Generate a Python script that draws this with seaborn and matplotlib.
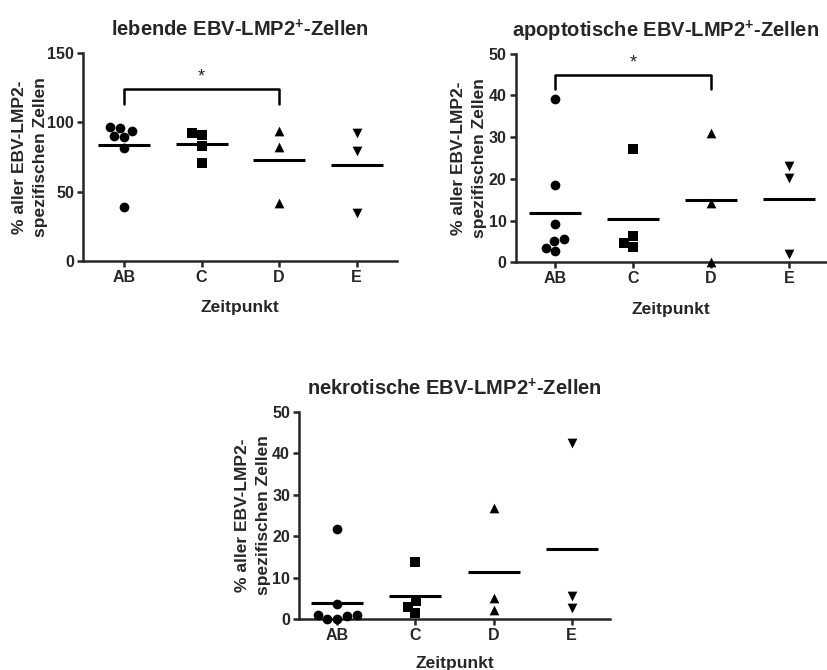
import numpy as np
import pandas as pd
import matplotlib
matplotlib.use("Agg")
import matplotlib.pyplot as plt
import seaborn as sns

# ---------------- data ----------------
categories = ["AB", "C", "D", "E"]
markers = ["o", "s", "^", "v"]

lebend_AB = [96.3, 90.3, 89.8, 93.9, 97.0, 81.4, 38.8]
lebend_C = [91.0, 92.2, 83.1, 70.6]
lebend_D = [93.9, 82.6, 42.1]
lebend_E = [92.7, 79.7, 34.4]

apopt_AB = [39.1, 18.5, 9.1, 5.0, 5.6, 2.7, 3.4]
apopt_C = [27.2, 6.3, 3.6, 4.6]
apopt_D = [30.9, 14.1, 0.0]
apopt_E = [23.2, 20.1, 2.0]

nekro_AB = [21.7, 3.6, 1.0, 0.8, 1.0, 0.0, 0.0]
nekro_C = [13.7, 4.4, 3.0, 1.4]
nekro_D = [26.7, 5.2, 2.2]
nekro_E = [42.5, 5.6, 2.6]

titles = ["lebende EBV-LMP2$^{+}$-Zellen",
          "apoptotische EBV-LMP2$^{+}$-Zellen",
          "nekrotische EBV-LMP2$^{+}$-Zellen"]
ylabel = "% aller EBV-LMP2-\nspezifischen Zellen"
xlabel = "Zeitpunkt"
yticks_lebend = [0, 50, 100, 150]
yticks_other = [0, 10, 20, 30, 40, 50]

# significance bracket (AB vs D): leg bottom, bar top, star text
sig_lebend = (113.2, 124.2, "*")
sig_apopt = (41.5, 44.9, "*")


def make_df(groups):
    rows = []
    for cat, vals in zip(categories, groups):
        for v in vals:
            rows.append((cat, v))
    return pd.DataFrame(rows, columns=["Zeitpunkt", "Wert"])


df_lebend = make_df([lebend_AB, lebend_C, lebend_D, lebend_E])
df_apopt = make_df([apopt_AB, apopt_C, apopt_D, apopt_E])
df_nekro = make_df([nekro_AB, nekro_C, nekro_D, nekro_E])

# ---------------- style ----------------
sns.set_style("ticks")
plt.rcParams["font.family"] = ["Liberation Sans", "DejaVu Sans"]
plt.rcParams["font.weight"] = "bold"
plt.rcParams["mathtext.fontset"] = "custom"
plt.rcParams["mathtext.rm"] = "Liberation Sans:bold"
plt.rcParams["mathtext.it"] = "Liberation Sans:bold"
plt.rcParams["mathtext.bf"] = "Liberation Sans:bold"
plt.rcParams["axes.linewidth"] = 1.8

fig = plt.figure(figsize=(8.28, 6.70), dpi=100)
ax1 = fig.add_axes([0.1002, 0.6104, 0.3792, 0.3104])
ax2 = fig.add_axes([0.6228, 0.6085, 0.3760, 0.3113])
ax3 = fig.add_axes([0.3611, 0.0757, 0.3756, 0.3098])


def draw(ax, df, title, yticks, xlim, sig=None, title_x=0.5, xpad=11,
         ypad=0):
    for cat, m in zip(categories, markers):
        sub = df[df["Zeitpunkt"] == cat]
        sns.swarmplot(data=sub, x="Zeitpunkt", y="Wert", order=categories,
                      marker=m, color="black", size=7, ax=ax,
                      clip_on=False, zorder=5)
    sns.pointplot(data=df, x="Zeitpunkt", y="Wert", order=categories,
                  estimator="mean", errorbar=None, markers="_",
                  linestyles="none", color="black", markersize=37,
                  markeredgewidth=2.2, ax=ax, zorder=4)
    ax.set_ylim(yticks[0], yticks[-1])
    ax.set_yticks(yticks)
    ax.set_xlim(*xlim)
    sns.despine(ax=ax)
    ax.tick_params(axis="both", direction="out", length=4.5, width=1.8,
                   labelsize=11.5, pad=2)
    for lab in ax.get_xticklabels() + ax.get_yticklabels():
        lab.set_fontweight("bold")
    ax.set_xlabel(xlabel, fontsize=12.5, fontweight="bold", labelpad=xpad)
    ax.set_ylabel(ylabel, fontsize=12.5, fontweight="bold", labelpad=ypad,
                  linespacing=1.5)
    ax.set_title(title, fontsize=14.5, fontweight="bold", pad=12, x=title_x)
    if sig is not None:
        lo, hi, star = sig
        i0, i1 = categories.index("AB"), categories.index("D")
        ax.plot([i0, i0, i1, i1], [lo, hi, hi, lo], color="black", lw=1.8,
                clip_on=False)
        ax.text((i0 + i1) / 2, hi + (yticks[-1] - yticks[0]) * 0.015, star,
                ha="center", va="bottom", fontsize=13, fontweight="normal")


draw(ax1, df_lebend, titles[0], yticks_lebend, (-0.53, 3.52), sig_lebend,
     ypad=-1)
draw(ax2, df_apopt, titles[1], yticks_other, (-0.51, 3.49), sig_apopt,
     title_x=0.48, ypad=1)
draw(ax3, df_nekro, titles[2], yticks_other, (-0.49, 3.49), None, xpad=9,
     ypad=1)

fig.savefig("out.png", dpi=100)
